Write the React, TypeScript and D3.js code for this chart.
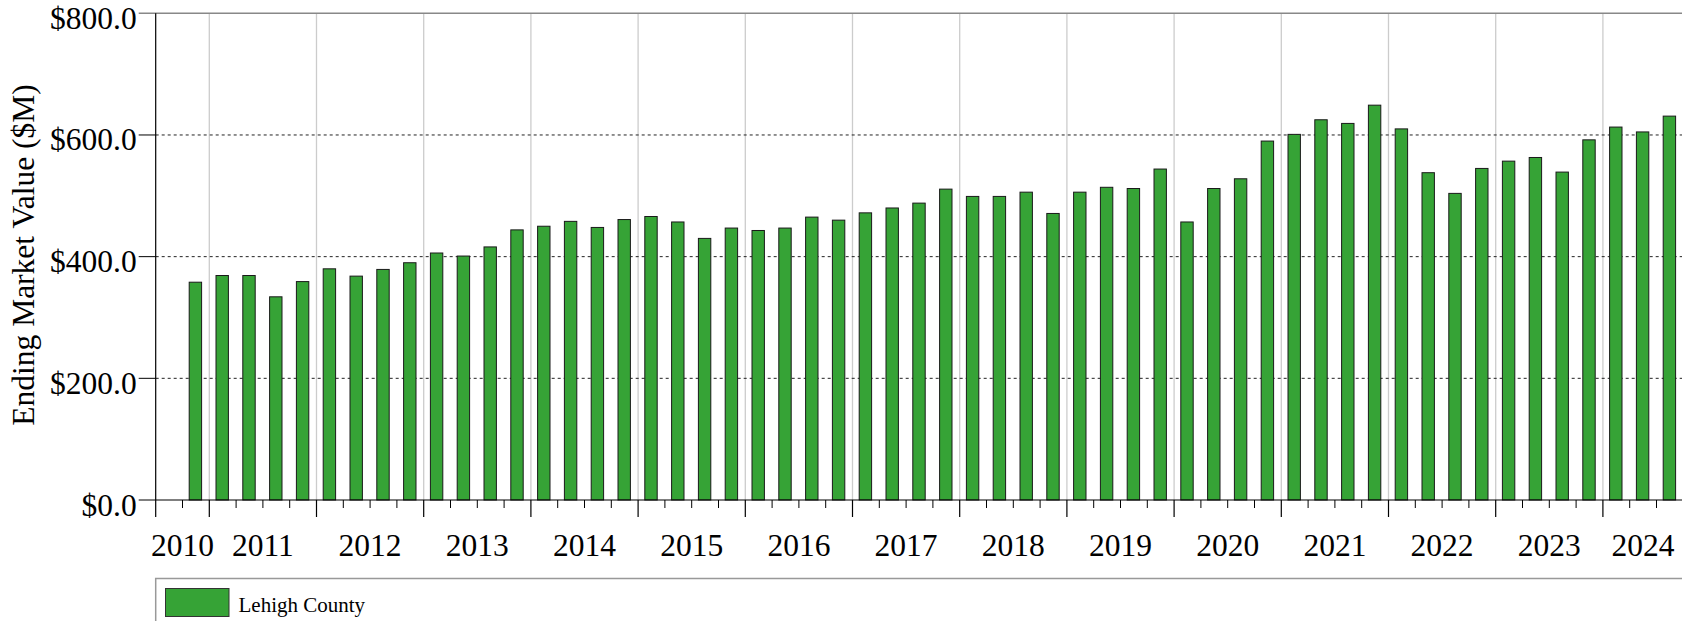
import * as d3 from "d3";
import { useEffect, useRef } from "react";

// quarter-end market values, Lehigh County ($M)
const quarters = [
    "2010-Q4",
    "2011-Q1", "2011-Q2", "2011-Q3", "2011-Q4",
    "2012-Q1", "2012-Q2", "2012-Q3", "2012-Q4",
    "2013-Q1", "2013-Q2", "2013-Q3", "2013-Q4",
    "2014-Q1", "2014-Q2", "2014-Q3", "2014-Q4",
    "2015-Q1", "2015-Q2", "2015-Q3", "2015-Q4",
    "2016-Q1", "2016-Q2", "2016-Q3", "2016-Q4",
    "2017-Q1", "2017-Q2", "2017-Q3", "2017-Q4",
    "2018-Q1", "2018-Q2", "2018-Q3", "2018-Q4",
    "2019-Q1", "2019-Q2", "2019-Q3", "2019-Q4",
    "2020-Q1", "2020-Q2", "2020-Q3", "2020-Q4",
    "2021-Q1", "2021-Q2", "2021-Q3", "2021-Q4",
    "2022-Q1", "2022-Q2", "2022-Q3", "2022-Q4",
    "2023-Q1", "2023-Q2", "2023-Q3", "2023-Q4",
    "2024-Q1", "2024-Q2", "2024-Q3",
];

const endingValue = [
    358,
    369, 369, 334, 359,
    380, 368, 379, 390,
    406, 401, 416, 444,
    450, 458, 448, 461,
    466, 457, 430, 447,
    443, 447, 465, 460,
    472, 480, 488, 511,
    499, 499, 506, 471,
    506, 514, 512, 544,
    457, 512, 528, 590,
    601, 625, 619, 649,
    610, 538, 504, 545,
    557, 563, 539, 592,
    613, 605, 631,
];

const yearLabels = [2010, 2011, 2012, 2013, 2014, 2015, 2016, 2017, 2018, 2019, 2020, 2021, 2022, 2023, 2024];
const yTicks = [0, 200, 400, 600, 800];
const seriesName = "Lehigh County";

// "2011-Q3" -> fractional year at the start of that quarter
const quarterStart = q => +q.slice(0, 4) + (+q.slice(-1) - 1) / 4;

export default function App() {
    const ref = useRef(null);

    useEffect(() => {
        const svg = d3.select(ref.current);
        svg.selectAll("*").remove();

        const width = 1682;
        const height = 621;
        const left = 155.7;
        const right = 1683.3;
        const top = 13.3;
        const base = 500;
        const font = "'Liberation Serif', 'Times New Roman', serif";

        svg.attr("width", width).attr("height", height).style("font-family", font);

        const x = d3.scaleLinear().domain([2010.5, 2024.75]).range([left, right]);
        const y = d3.scaleLinear().domain([0, 800]).range([base, top]);
        const qw = x(0.25) - x(0);

        // vertical year grid
        svg.append("g")
            .selectAll("line")
            .data(yearLabels.filter(yr => yr > 2010.5))
            .enter()
            .append("line")
            .attr("x1", d => x(d))
            .attr("x2", d => x(d))
            .attr("y1", top)
            .attr("y2", base)
            .attr("stroke", "#cccccc")
            .attr("stroke-width", 1.3);

        // dashed horizontal grid
        svg.append("g")
            .selectAll("line")
            .data(yTicks.filter(t => t > 0 && t < 800))
            .enter()
            .append("line")
            .attr("x1", left)
            .attr("x2", width)
            .attr("y1", d => y(d))
            .attr("y2", d => y(d))
            .attr("stroke", "#222")
            .attr("stroke-width", 1)
            .attr("stroke-dasharray", "3,3");

        // top border
        svg.append("line")
            .attr("x1", left - 17)
            .attr("x2", width)
            .attr("y1", y(800))
            .attr("y2", y(800))
            .attr("stroke", "#888")
            .attr("stroke-width", 1.5);

        // bars
        svg.append("g")
            .selectAll("rect")
            .data(quarters)
            .enter()
            .append("rect")
            .attr("x", q => x(quarterStart(q)) + qw * 0.25)
            .attr("width", qw * 0.5 - 1)
            .attr("y", (q, i) => y(endingValue[i]))
            .attr("height", (q, i) => base - y(endingValue[i]))
            .attr("fill", "#36a336")
            .attr("stroke", "#1a1a1a")
            .attr("stroke-width", 1);

        // y axis
        svg.append("line")
            .attr("x1", left).attr("x2", left)
            .attr("y1", top).attr("y2", base + 17)
            .attr("stroke", "#000").attr("stroke-width", 1.2);

        const yt = svg.append("g");
        yTicks.forEach(t => {
            if (t < 800) {
                yt.append("line")
                    .attr("x1", left - 17).attr("x2", left)
                    .attr("y1", y(t)).attr("y2", y(t))
                    .attr("stroke", "#000").attr("stroke-width", 1);
            }
            yt.append("text")
                .attr("x", left - 19)
                .attr("y", y(t) + 15.5)
                .attr("text-anchor", "end")
                .style("font-size", "31.5px")
                .text("$" + d3.format(",.1f")(t));
        });

        svg.append("text")
            .attr("transform", "rotate(-90)")
            .attr("x", -255)
            .attr("y", 34)
            .attr("text-anchor", "middle")
            .style("font-size", "31.5px")
            .text("Ending Market Value ($M)");

        // x axis
        svg.append("line")
            .attr("x1", left).attr("x2", width)
            .attr("y1", base).attr("y2", base)
            .attr("stroke", "#000").attr("stroke-width", 1.2);

        const xt = svg.append("g");
        const qTicks = d3.range(2010.75, 2024.75, 0.25);
        qTicks.forEach(t => {
            const major = Number.isInteger(t);
            xt.append("line")
                .attr("x1", x(t)).attr("x2", x(t))
                .attr("y1", base).attr("y2", base + (major ? 17 : 8))
                .attr("stroke", "#000").attr("stroke-width", major ? 1.2 : 1);
        });

        const [d0, d1] = x.domain();
        xt.selectAll("text")
            .data(yearLabels)
            .enter()
            .append("text")
            .attr("x", yr => x((Math.max(yr, d0) + Math.min(yr + 1, d1)) / 2))
            .attr("y", 555.5)
            .attr("text-anchor", "middle")
            .style("font-size", "31.5px")
            .text(yr => yr);

        // legend
        const legend = svg.append("g");
        legend.append("rect")
            .attr("x", left)
            .attr("y", 578.5)
            .attr("width", width)
            .attr("height", 80)
            .attr("fill", "#fff")
            .attr("stroke", "#999")
            .attr("stroke-width", 1.5);
        legend.append("rect")
            .attr("x", 165.5)
            .attr("y", 588.5)
            .attr("width", 63.5)
            .attr("height", 28)
            .attr("fill", "#36a336")
            .attr("stroke", "#333")
            .attr("stroke-width", 1);
        legend.append("text")
            .attr("x", 238.5)
            .attr("y", 611.5)
            .style("font-size", "21px")
            .text(seriesName);
    }, []);

    return (
        <div style={{ position: "absolute", left: 0, top: 0 }}>
            <svg ref={ref} style={{ display: "block" }} />
        </div>
    );
}
